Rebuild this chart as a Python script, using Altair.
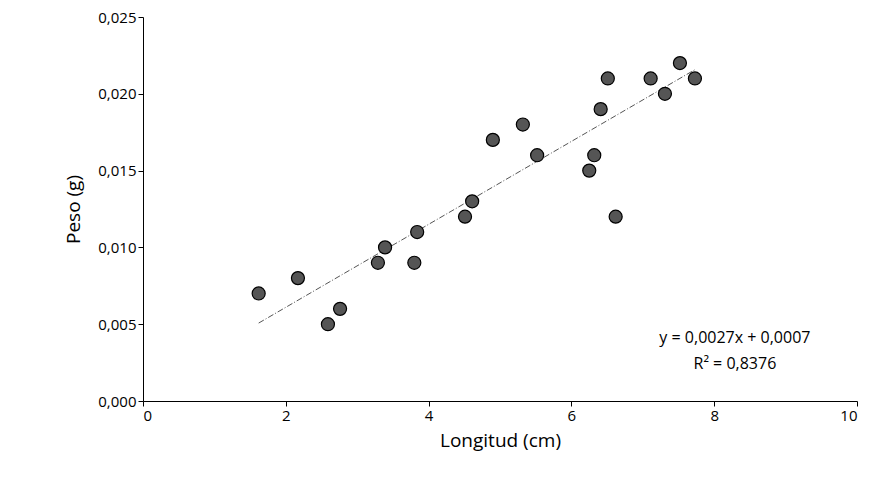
import altair as alt
import pandas as pd

longitud = [1.62,2.17,2.59,2.76,3.29,3.39,3.80,3.84,4.51,4.61,4.90,5.32,5.52,6.25,6.32,6.41,6.51,6.62,7.11,7.31,7.52,7.73]
peso = [0.007,0.008,0.005,0.006,0.009,0.010,0.009,0.011,0.012,0.013,0.017,0.018,0.016,0.015,0.016,0.019,0.021,0.012,0.021,0.020,0.022,0.021]
slope, intercept = 0.0027, 0.0007
line_x = [1.62, 7.73]

df = pd.DataFrame({"x": longitud, "y": peso})
ldf = pd.DataFrame({"x": line_x})

xs = alt.Scale(domain=[0, 10], nice=False)
ys = alt.Scale(domain=[0, 0.025], nice=False)
xax = alt.Axis(values=[0,2,4,6,8,10], format="d", grid=False, title="Longitud (cm)", domainColor="black", tickColor="black",
               labelFontSize=15, titleFontSize=19, titleFontWeight="normal", labelColor="black", titleColor="black", titlePadding=8)
yax = alt.Axis(values=[0,0.005,0.01,0.015,0.02,0.025], grid=False, title="Peso (g)", domainColor="black", tickColor="black",
               labelExpr="replace(format(datum.value,'.3f'),'.',',')",
               labelFontSize=15, titleFontSize=19, titleFontWeight="normal", labelColor="black", titleColor="black", titlePadding=14)

pts = alt.Chart(df).mark_circle(size=170, color="#555555", stroke="black", strokeWidth=1.2, opacity=1).encode(
    x=alt.X("x:Q", scale=xs, axis=xax), y=alt.Y("y:Q", scale=ys, axis=yax))
line = alt.Chart(ldf).transform_calculate(y=f"{slope}*datum.x+{intercept}").mark_line(
    color="#555555", strokeDash=[6,2,1,2], strokeWidth=1).encode(x=alt.X("x:Q", scale=xs), y=alt.Y("y:Q", scale=ys))
txt = alt.Chart(pd.DataFrame({"t": ["y = 0,0027x + 0,0007", "R² = 0,8376"], "x": [8.29, 8.29], "y": [0.0041, 0.0024]})).mark_text(
    fontSize=16, color="black").encode(x=alt.X("x:Q", scale=xs), y=alt.Y("y:Q", scale=ys), text="t:N")

chart = (line + pts + txt).properties(width=714, height=384, autosize="none",
    padding={"left": 135, "top": 9, "right": 10, "bottom": 60}).configure_view(stroke=None).configure_axis(
    labelFont="Open Sans", titleFont="Open Sans").configure_text(font="Open Sans")
chart.save("out.html", embed_options={"renderer": "svg", "actions": False})
